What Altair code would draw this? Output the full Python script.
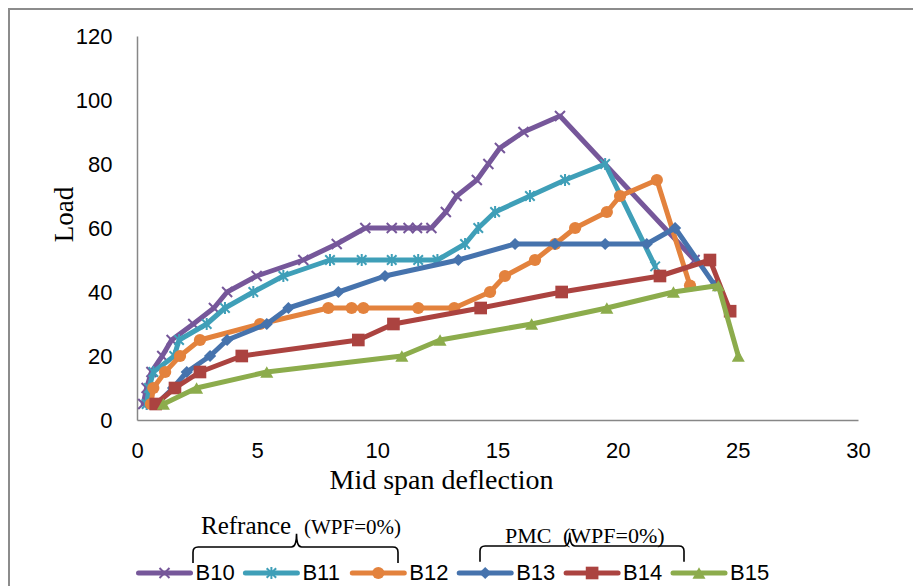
import altair as alt
import pandas as pd

# ---- data: mid span deflection (x) and load (y) for each beam ----
series_names = ["B10", "B11", "B12", "B13", "B14", "B15"]

b10_deflection = [0.26, 0.4, 0.6, 1.05, 1.44, 2.34, 3.2, 3.75, 4.98, 6.92, 8.31, 9.5,
                  10.6, 11.3, 11.65, 12.25, 12.85, 13.3, 14.14, 14.62, 15.1, 16.08, 17.6, 23.2]
b10_load = [5, 10, 15, 20, 25, 30, 35, 40, 45, 50, 55, 60,
            60, 60, 60, 60, 65, 70, 75, 80, 85, 90, 95, 50]

b11_deflection = [0.4, 0.5, 0.68, 1.55, 1.75, 2.9, 3.66, 4.84, 6.09, 8.03, 9.35, 10.6,
                  11.7, 12.5, 13.65, 14.2, 14.9, 16.35, 17.81, 19.48, 21.56]
b11_load = [5, 10, 15, 20, 25, 30, 35, 40, 45, 50, 50, 50,
            50, 50, 55, 60, 65, 70, 75, 80, 48]

b12_deflection = [0.58, 0.68, 1.17, 1.79, 2.62, 5.12, 7.96, 8.93, 9.42, 11.7, 13.2,
                  14.69, 15.31, 16.56, 17.4, 18.23, 19.55, 20.1, 21.63, 23.01]
b12_load = [5, 10, 15, 20, 25, 30, 35, 35, 35, 35, 35,
            40, 45, 50, 55, 60, 65, 70, 75, 42]

b13_deflection = [0.82, 1.5, 2.07, 3.04, 3.75, 5.4, 6.3, 8.38, 10.32, 13.37, 15.73,
                  17.39, 19.48, 21.21, 22.39, 24.05]
b13_load = [5, 10, 15, 20, 25, 30, 35, 40, 45, 50, 55, 55, 55, 55, 60, 42]

b14_deflection = [0.78, 1.58, 2.62, 4.36, 9.21, 10.67, 14.3, 17.67, 21.76, 23.84, 24.68]
b14_load = [5, 10, 15, 20, 25, 30, 35, 40, 45, 50, 34]

b15_deflection = [1.1, 2.48, 5.4, 11.02, 12.61, 16.42, 19.55, 22.32, 24.19, 25.02]
b15_load = [5, 10, 15, 20, 25, 30, 35, 40, 42, 20]

x_ticks = [0, 5, 10, 15, 20, 25, 30]
y_ticks = [0, 20, 40, 60, 80, 100, 120]

deflections = [b10_deflection, b11_deflection, b12_deflection,
               b13_deflection, b14_deflection, b15_deflection]
loads = [b10_load, b11_load, b12_load, b13_load, b14_load, b15_load]

# ---- styling ----
colors = ["#76579a", "#3f9fb8", "#e3823d", "#4673ad", "#ab4340", "#8cac4c"]
marker_styles = [
    dict(shape="M-1,-1L1,1M-1,1L1,-1", filled=False, size=100, strokeWidth=2),
    dict(shape="M-1,-1L1,1M-1,1L1,-1M0,-1.25L0,1.25", filled=False, size=90, strokeWidth=2),
    dict(shape="circle", filled=True, size=150),
    dict(shape="diamond", filled=True, size=150),
    dict(shape="square", filled=True, size=160),
    dict(shape="triangle-up", filled=True, size=170),
]

LABEL_FONT = "Liberation Sans"
SERIF = "Liberation Serif"
W, H = 721, 384
LEFT, TOP = 137, 36

rows = []
for name, xs, ys in zip(series_names, deflections, loads):
    for i, (x, y) in enumerate(zip(xs, ys)):
        rows.append({"series": name, "idx": i, "deflection": x, "load": y})
df = pd.DataFrame(rows)

x_axis = alt.Axis(
    values=x_ticks, title="Mid span deflection", grid=False, ticks=False, tickSize=0,
    labelFont=LABEL_FONT, labelFontSize=22, labelColor="black", labelPadding=20,
    labelFlush=False, labelOverlap=False,
    domainColor="#878787", domainWidth=1.5,
    titleFont=SERIF, titleFontSize=28, titleFontWeight="normal", titleColor="black",
    titleX=304, titleY=68, titleBaseline="alphabetic",
)
y_axis = alt.Axis(
    values=y_ticks, title="Load", grid=False, ticks=False, tickSize=0,
    labelFont=LABEL_FONT, labelFontSize=22, labelColor="black", labelPadding=25,
    labelOverlap=False,
    domainColor="#878787", domainWidth=1.5,
    titleFont=SERIF, titleFontSize=27, titleFontWeight="normal", titleColor="black",
    titleX=-73, titleY=178, titleBaseline="middle", titleAngle=270,
)

x_enc = alt.X("deflection:Q", scale=alt.Scale(domain=[0, 30], nice=False), axis=x_axis)
y_enc = alt.Y("load:Q", scale=alt.Scale(domain=[0, 120], nice=False), axis=y_axis)

base = alt.Chart(df).encode(x=x_enc, y=y_enc, order="idx:Q")

plot_layers = []
for name, color, style in zip(series_names, colors, marker_styles):
    sub = base.transform_filter(alt.datum.series == name)
    plot_layers.append(
        sub.mark_line(color=color, strokeWidth=5, strokeJoin="round", strokeCap="round")
    )
    plot_layers.append(sub.mark_point(color=color, opacity=1, **style))
plot = alt.layer(*plot_layers)

# ---- legend row along the bottom ----
legend_df = pd.DataFrame({"series": series_names})
lx = alt.X("series:N",
           scale=alt.Scale(type="point", domain=series_names, range=[27.5, 562], padding=0),
           axis=None)
legend_y = alt.value(537)
lbase = alt.Chart(legend_df).encode(x=lx, y=legend_y)

legend_layers = [
    lbase.mark_rule(strokeWidth=5, strokeCap="round", xOffset=-26, x2Offset=26).encode(
        x2=alt.X2("series:N"),
        color=alt.Color("series:N", scale=alt.Scale(domain=series_names, range=colors),
                        legend=None),
    )
]
for name, color, style in zip(series_names, colors, marker_styles):
    legend_layers.append(
        lbase.transform_filter(alt.datum.series == name)
        .mark_point(color=color, opacity=1, **style)
    )
legend_layers.append(
    lbase.mark_text(align="left", baseline="middle", dx=31, font=LABEL_FONT,
                    fontSize=22, color="black").encode(text="series:N")
)
legend = alt.layer(*legend_layers)


# ---- group braces and their captions above the legend ----
def brace_path(cusp):
    return (f"M-1,0.155 L-1,0.05 Q-1,0 -0.95,0 L{cusp - 0.05:.3f},0 "
            f"Q{cusp:.3f},0 {cusp:.3f},-0.13 Q{cusp:.3f},0 {cusp + 0.05:.3f},0 "
            f"L0.95,0 Q1,0 1,0.05 L1,0.155")


one = alt.Data(values=[{"k": 1}])
braces = [
    alt.Chart(one).mark_point(shape=brace_path(0.01), filled=False, color="black",
                              strokeWidth=1.6, size=205 ** 2, opacity=1)
    .encode(x=alt.value(295.5 - LEFT), y=alt.value(547 - TOP)),
    alt.Chart(one).mark_point(shape=brace_path(-0.12), filled=False, color="black",
                              strokeWidth=1.6, size=204 ** 2, opacity=1)
    .encode(x=alt.value(582 - LEFT), y=alt.value(546 - TOP)),
]
captions = [
    ("Refrance", 201, 534, 25),
    ("(WPF=0%)", 304, 534, 21),
    ("PMC", 505, 543, 22),
    ("(WPF=0%)", 563, 543, 22),
]
caption_layers = [
    alt.Chart(one).mark_text(text=t, align="left", baseline="alphabetic", font=SERIF,
                             fontSize=fs, color="black")
    .encode(x=alt.value(x - LEFT), y=alt.value(y - TOP))
    for t, x, y, fs in captions
]

frame = alt.Chart(one).mark_rect(fillOpacity=0, stroke="#8c8c8c", strokeWidth=2).encode(
    x=alt.value(9 - LEFT), x2=alt.value(913 - LEFT + 20),
    y=alt.value(9 - TOP), y2=alt.value(586 - TOP + 20),
)

deco = alt.layer(frame, *braces, *caption_layers)

chart = (
    alt.layer(deco, plot, legend)
    .resolve_scale(x="independent")
    .properties(
        width=W, height=H,
        autosize=alt.AutoSizeParams(type="none"),
        padding={"left": LEFT, "top": TOP, "right": 913 - LEFT - W, "bottom": 586 - TOP - H},
        background="white",
    )
    .configure_view(stroke=None)
)

chart.save("out.html", embed_options={"renderer": "svg", "actions": False})
